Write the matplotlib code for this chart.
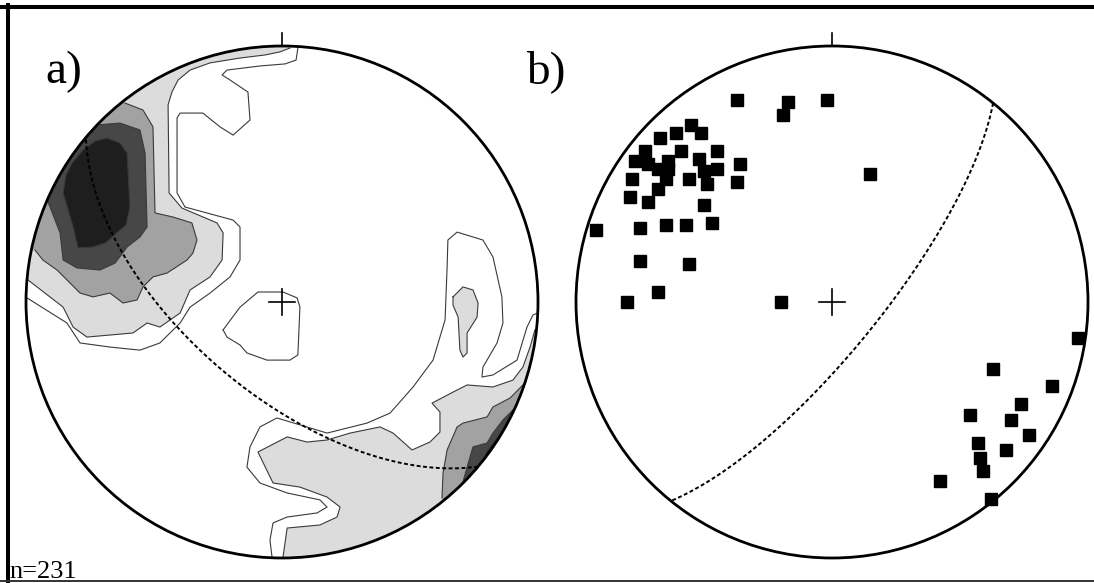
# -*- coding: utf-8 -*-
import numpy as np
import matplotlib
matplotlib.use("Agg")
from matplotlib import pyplot as plt
from matplotlib.patches import Circle
from matplotlib.lines import Line2D

# a) contoured poles, equal-area net, unit radius (x = east, y = north)
# lowest contour: drawn as a line only
a_c1_nw = [(0.062, 0.992), (0.055, 0.945), (0.012, 0.930), (-0.086, 0.922), (-0.215, 0.906),
           (-0.234, 0.887), (-0.203, 0.867), (-0.133, 0.820), (-0.125, 0.711), (-0.191, 0.652),
           (-0.242, 0.684), (-0.309, 0.738), (-0.398, 0.738), (-0.410, 0.719), (-0.410, 0.426),
           (-0.379, 0.371), (-0.191, 0.320), (-0.164, 0.293), (-0.164, 0.164), (-0.203, 0.098),
           (-0.281, 0.035), (-0.359, -0.020), (-0.398, -0.082), (-0.477, -0.160), (-0.555, -0.188),
           (-0.672, -0.176), (-0.789, -0.160), (-0.840, -0.082), (-0.996, 0.016)]
a_c1_mid = [(-0.230, -0.109), (-0.164, -0.020), (-0.094, 0.039), (0.004, 0.039), (0.059, 0.016),
            (0.070, -0.020), (0.062, -0.207), (0.031, -0.227), (-0.059, -0.227), (-0.137, -0.199),
            (-0.164, -0.168), (-0.215, -0.137)]
a_c1_se = [(-0.039, -0.996), (-0.047, -0.930), (-0.035, -0.863), (0.020, -0.840), (0.137, -0.824),
           (0.176, -0.801), (0.148, -0.773), (0.020, -0.746), (-0.086, -0.707), (-0.137, -0.645),
           (-0.125, -0.566), (-0.086, -0.488), (-0.020, -0.453), (0.070, -0.480), (0.176, -0.512),
           (0.332, -0.473), (0.422, -0.434), (0.512, -0.332), (0.590, -0.227), (0.637, -0.070),
           (0.645, 0.137), (0.648, 0.242), (0.684, 0.273), (0.785, 0.242), (0.824, 0.176),
           (0.859, 0.020), (0.863, -0.082), (0.840, -0.160), (0.785, -0.254), (0.781, -0.293),
           (0.824, -0.285), (0.918, -0.227), (0.957, -0.098), (0.980, -0.051), (1.008, -0.039)]

# level 2 (light grey)
a_c2_nw = [(0.031, 0.992), (-0.008, 0.977), (-0.066, 0.965), (-0.164, 0.953), (-0.281, 0.934),
           (-0.359, 0.906), (-0.406, 0.867), (-0.430, 0.820), (-0.445, 0.770), (-0.441, 0.426),
           (-0.391, 0.367), (-0.254, 0.309), (-0.230, 0.270), (-0.234, 0.164), (-0.281, 0.098),
           (-0.359, 0.047), (-0.398, -0.043), (-0.477, -0.098), (-0.527, -0.082), (-0.582, -0.121),
           (-0.762, -0.137), (-0.816, -0.098), (-0.855, -0.020), (-0.992, 0.086)]
a_c2_se = [(0.004, -0.996), (0.020, -0.883), (0.148, -0.871), (0.215, -0.840), (0.227, -0.801),
           (0.176, -0.762), (0.070, -0.723), (-0.035, -0.707), (-0.094, -0.586), (0.020, -0.527),
           (0.098, -0.547), (0.176, -0.539), (0.266, -0.512), (0.383, -0.488), (0.434, -0.512),
           (0.508, -0.578), (0.578, -0.547), (0.617, -0.508), (0.617, -0.430), (0.586, -0.395),
           (0.668, -0.352), (0.723, -0.324), (0.824, -0.332), (0.902, -0.305), (0.941, -0.254),
           (0.969, -0.176), (0.988, -0.109)]
a_c2_e = [(0.668, 0.020), (0.707, 0.059), (0.746, 0.047), (0.766, -0.004), (0.762, -0.059),
          (0.723, -0.121), (0.723, -0.199), (0.707, -0.215), (0.695, -0.188), (0.688, -0.059),
          (0.668, -0.012)]

# level 3
a_c3_nw = [(-0.613, 0.777), (-0.543, 0.750), (-0.504, 0.684), (-0.496, 0.348), (-0.426, 0.332),
           (-0.352, 0.309), (-0.332, 0.242), (-0.348, 0.191), (-0.371, 0.164), (-0.449, 0.113),
           (-0.504, 0.098), (-0.543, 0.059), (-0.566, 0.008), (-0.621, -0.004), (-0.672, 0.035),
           (-0.738, 0.020), (-0.789, 0.035), (-0.828, 0.074), (-0.879, 0.125), (-0.934, 0.164),
           (-0.965, 0.203)]
a_c3_se = [(0.625, -0.766), (0.629, -0.668), (0.645, -0.578), (0.684, -0.488), (0.707, -0.473),
           (0.801, -0.449), (0.824, -0.410), (0.891, -0.375), (0.949, -0.316)]

# level 4
a_c4_nw = [(-0.730, 0.691), (-0.633, 0.699), (-0.555, 0.672), (-0.535, 0.582), (-0.527, 0.293),
           (-0.555, 0.254), (-0.605, 0.215), (-0.652, 0.152), (-0.711, 0.125), (-0.801, 0.133),
           (-0.855, 0.164), (-0.867, 0.270), (-0.906, 0.371), (-0.914, 0.391)]
a_c4_se = [(0.707, -0.703), (0.723, -0.645), (0.746, -0.566), (0.801, -0.551), (0.824, -0.512),
           (0.863, -0.461), (0.902, -0.422)]

# level 5 (maximum)
a_c5_nw = [(-0.684, 0.641), (-0.633, 0.621), (-0.605, 0.582), (-0.594, 0.371), (-0.609, 0.301),
           (-0.645, 0.270), (-0.691, 0.230), (-0.738, 0.215), (-0.797, 0.211), (-0.816, 0.293),
           (-0.855, 0.426), (-0.844, 0.496), (-0.820, 0.543), (-0.777, 0.594), (-0.730, 0.629)]
a_c5_se = [(0.785, -0.621), (0.801, -0.582), (0.828, -0.547), (0.863, -0.504)]

a_plane = (220, 61)   # dip direction, dip
a_n = 231

# b) poles, same projection
b_x = [-0.37, -0.17, -0.19, -0.02, -0.55, -0.51, -0.61, -0.67, -0.73, -0.59, -0.45, -0.77, -0.72,
       -0.64, -0.68, -0.64, -0.52, -0.50, -0.45, -0.36, -0.78, -0.65, -0.56, -0.49, -0.37, -0.68,
       -0.79, -0.72, -0.50, -0.92, -0.75, -0.65, -0.57, -0.47, -0.75, -0.56, -0.68, -0.80, -0.20,
       0.15, 0.96, 0.63, 0.86, 0.74, 0.54, 0.70, 0.77, 0.57, 0.68, 0.58, 0.59, 0.42, 0.62]
b_y = [0.79, 0.78, 0.73, 0.79, 0.69, 0.66, 0.66, 0.64, 0.59, 0.59, 0.59, 0.55, 0.54,
       0.55, 0.52, 0.52, 0.56, 0.51, 0.52, 0.54, 0.48, 0.48, 0.48, 0.46, 0.47, 0.44,
       0.41, 0.39, 0.38, 0.28, 0.29, 0.30, 0.30, 0.31, 0.16, 0.15, 0.04, 0.00, 0.00,
       0.50, -0.14, -0.26, -0.33, -0.40, -0.44, -0.46, -0.52, -0.55, -0.58, -0.61, -0.66, -0.70, -0.77]
b_plane = (129, 75)

GREYS = ['#dcdcdc', '#a2a2a2', '#474747', '#1e1e1e']
LINE = '#3a3a3a'
SERIF = ['Liberation Serif', 'DejaVu Serif']


def net_xy(trend, plunge):
    r = np.sqrt(2) * np.sin(np.radians(90 - plunge) / 2)
    return r * np.sin(np.radians(trend)), r * np.cos(np.radians(trend))


def great_circle(dd, dip):
    t = np.linspace(0, np.pi, 200)
    s, d, p = np.radians(dd - 90), np.radians(dd), np.radians(dip)
    e = np.sin(s) * np.cos(t) + np.sin(d) * np.cos(p) * np.sin(t)
    n = np.cos(s) * np.cos(t) + np.cos(d) * np.cos(p) * np.sin(t)
    z = np.sin(p) * np.sin(t)
    return net_xy(np.degrees(np.arctan2(e, n)), np.degrees(np.arcsin(np.clip(z, -1, 1))))


def close_on_rim(pts):
    x, y = np.array(pts).T
    a0, a1 = np.arctan2(y[-1], x[-1]), np.arctan2(y[0], x[0])
    da = (a1 - a0 + np.pi) % (2 * np.pi) - np.pi
    arc = a0 + da * np.linspace(0, 1, 40)
    return np.r_[x, 1.05 * np.cos(arc)], np.r_[y, 1.05 * np.sin(arc)]


def net(fig, cx):
    ax = fig.add_axes([(cx - 256) / 1094, 25 / 583, 512 / 1094, 512 / 583])
    ax.set_xlim(-1, 1)
    ax.set_ylim(-1, 1)
    ax.axis('off')
    rim = Circle((0, 0), 1, transform=ax.transData)
    return ax, rim


def frame(ax, plane):
    gx, gy = great_circle(*plane)
    ax.plot(gx, gy, color='black', lw=1.4, ls=(0, (2, 1.3)), zorder=5)
    ax.add_patch(Circle((0, 0), 1, fill=False, color='black', lw=2.0, zorder=6, clip_on=False))
    ax.plot([0, 0], [1, 1.05], color='black', lw=1.2, clip_on=False, zorder=6)
    ax.plot([-0.05, 0.05], [0, 0], color='black', lw=1.2, zorder=6)
    ax.plot([0, 0], [-0.05, 0.05], color='black', lw=1.2, zorder=6)


def main():
    fig = plt.figure(figsize=(10.94, 5.83), dpi=100)

    # a) contours
    ax, rim = net(fig, 282)
    fills = [(0, a_c2_nw, False), (0, a_c2_se, False), (0, a_c2_e, True),
             (1, a_c3_nw, False), (1, a_c3_se, False),
             (2, a_c4_nw, False), (2, a_c4_se, False),
             (3, a_c5_nw, True), (3, a_c5_se, False)]
    for lev, pts, closed in fills:
        if closed:
            x, y = np.array(pts).T
        else:
            x, y = close_on_rim(pts)
        f = ax.fill(x, y, color=GREYS[lev], lw=0, zorder=1 + lev)
        f[0].set_clip_path(rim)
        x, y = np.array(pts + pts[:1] if closed else pts).T
        ln = ax.plot(x, y, color=LINE, lw=0.8, zorder=1 + lev)
        ln[0].set_clip_path(rim)
    for pts, closed in [(a_c1_nw, False), (a_c1_mid, True), (a_c1_se, False)]:
        x, y = np.array(pts + pts[:1] if closed else pts).T
        ln = ax.plot(x, y, color=LINE, lw=0.8, zorder=1)
        ln[0].set_clip_path(rim)
    frame(ax, a_plane)

    # b) poles
    bx, rim_b = net(fig, 832)
    bx.plot(b_x, b_y, 's', color='black', ms=9, mec='black', zorder=7)
    frame(bx, b_plane)

    fig.text(45 / 1094, 1 - 83 / 583, 'a)', fontsize=34, family=SERIF, va='baseline')
    fig.text(526 / 1094, 1 - 83 / 583, 'b)', fontsize=34, family=SERIF, va='baseline')
    fig.text(9 / 1094, 1 - 578 / 583, 'n=%d' % a_n, fontsize=19, family=SERIF, va='baseline')

    # border
    fig.add_artist(Line2D([0, 1], [1 - 7 / 583] * 2, transform=fig.transFigure, color='black', lw=2.9))
    fig.add_artist(Line2D([8 / 1094] * 2, [0, 1 - 5 / 583], transform=fig.transFigure, color='black', lw=2.9))
    fig.add_artist(Line2D([0, 1], [2 / 583] * 2, transform=fig.transFigure, color='#333333', lw=1.4))

    fig.savefig('out.png', dpi=100, facecolor='white')
    plt.close()


if __name__ == '__main__':
    main()
